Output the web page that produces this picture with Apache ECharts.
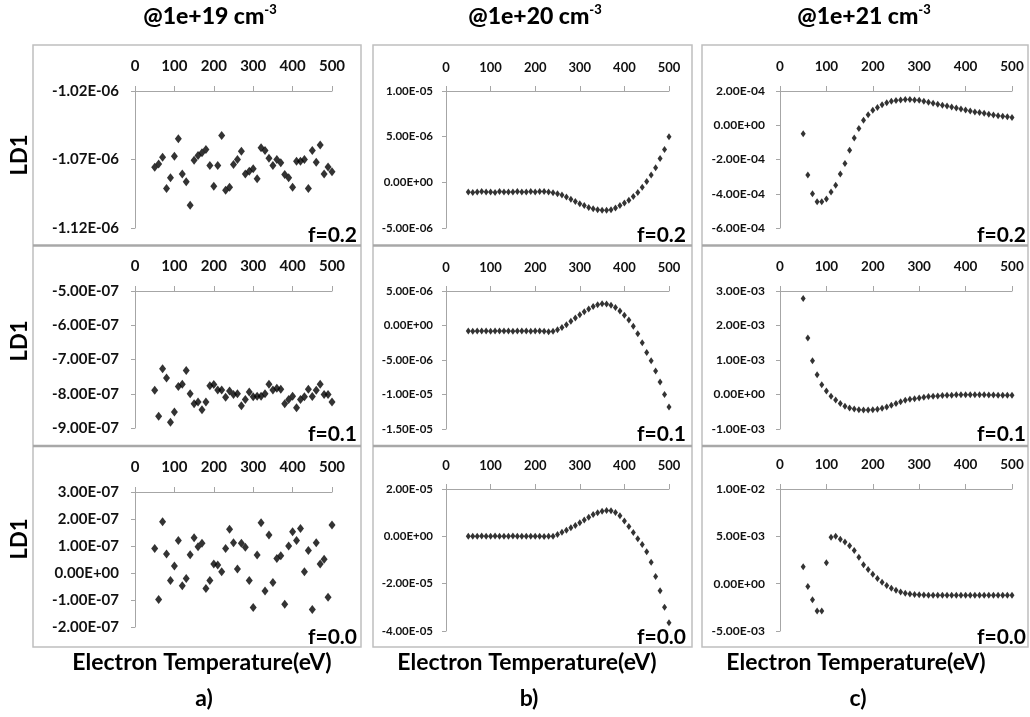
<!DOCTYPE html>
<html>
<head>
<meta charset="utf-8">
<script src="https://cdn.jsdelivr.net/npm/echarts@6/dist/echarts.min.js"></script>
<style>
html,body{margin:0;padding:0;background:#fff;}
#chart{width:1030px;height:717px;}
</style>
</head>
<body>
<div id="chart"></div>
<script>
// ---------------- data ----------------
const temps = [50,60,70,80,90,100,110,120,130,140,150,160,170,180,190,200,210,220,230,240,250,260,270,280,290,300,310,320,330,340,350,360,370,380,390,400,410,420,430,440,450,460,470,480,490,500];
const xTicks = [0,100,200,300,400,500];

// column a) @1e+19 cm-3
const ld1_a_f02 = [-1.0756e-6,-1.0732e-6,-1.0683e-6,-1.0912e-6,-1.0834e-6,-1.0676e-6,-1.0549e-6,-1.0805e-6,-1.0863e-6,-1.1034e-6,
  -1.0705e-6,-1.0671e-6,-1.0651e-6,-1.0627e-6,-1.0744e-6,-1.0895e-6,-1.0744e-6,-1.0524e-6,-1.0924e-6,-1.0902e-6,
  -1.0737e-6,-1.0700e-6,-1.0639e-6,-1.0805e-6,-1.0785e-6,-1.0768e-6,-1.0841e-6,-1.0615e-6,-1.0634e-6,-1.0690e-6,
  -1.0744e-6,-1.0700e-6,-1.0724e-6,-1.0810e-6,-1.0834e-6,-1.0902e-6,-1.0712e-6,-1.0712e-6,-1.0700e-6,-1.0912e-6,
  -1.0634e-6,-1.0720e-6,-1.0595e-6,-1.0805e-6,-1.0754e-6,-1.0790e-6];
const ld1_a_f01 = [-7.90e-7,-8.66e-7,-7.27e-7,-7.54e-7,-8.83e-7,-8.53e-7,-7.79e-7,-7.72e-7,-7.32e-7,-8.00e-7,
  -8.29e-7,-8.24e-7,-8.47e-7,-8.24e-7,-7.77e-7,-7.73e-7,-7.89e-7,-7.89e-7,-8.10e-7,-7.92e-7,
  -8.02e-7,-8.00e-7,-8.35e-7,-8.17e-7,-7.95e-7,-8.09e-7,-8.07e-7,-8.07e-7,-8.00e-7,-7.72e-7,
  -7.89e-7,-7.84e-7,-7.87e-7,-8.29e-7,-8.17e-7,-8.07e-7,-8.41e-7,-8.17e-7,-8.09e-7,-7.87e-7,
  -8.08e-7,-7.90e-7,-7.72e-7,-8.02e-7,-8.02e-7,-8.24e-7];
const ld1_a_f00 = [0.91e-7,-0.98e-7,1.90e-7,0.70e-7,-0.28e-7,0.26e-7,1.20e-7,-0.47e-7,-0.20e-7,0.68e-7,
  1.31e-7,0.97e-7,1.10e-7,-0.57e-7,-0.28e-7,0.33e-7,0.30e-7,0.05e-7,0.91e-7,1.62e-7,
  1.12e-7,0.15e-7,1.10e-7,0.95e-7,-0.28e-7,-1.28e-7,0.67e-7,1.86e-7,-0.67e-7,1.41e-7,
  -0.35e-7,0.54e-7,0.64e-7,-1.16e-7,1.00e-7,1.53e-7,1.20e-7,1.65e-7,0.05e-7,0.83e-7,
  -1.35e-7,1.12e-7,0.33e-7,0.51e-7,-0.90e-7,1.78e-7];

// column b) @1e+20 cm-3
const ld1_b_f02 = [-1.05e-6,-1.10e-6,-1.05e-6,-1.00e-6,-1.05e-6,-1.05e-6,-1.10e-6,-1.00e-6,-1.05e-6,-1.05e-6,
  -1.05e-6,-1.00e-6,-1.05e-6,-1.05e-6,-1.00e-6,-1.05e-6,-1.00e-6,-1.00e-6,-1.05e-6,-1.15e-6,
  -1.25e-6,-1.40e-6,-1.60e-6,-1.85e-6,-2.10e-6,-2.35e-6,-2.55e-6,-2.75e-6,-2.90e-6,-3.00e-6,
  -3.05e-6,-3.05e-6,-3.00e-6,-2.80e-6,-2.55e-6,-2.25e-6,-1.95e-6,-1.55e-6,-1.10e-6,-0.55e-6,
  0.10e-6,0.80e-6,1.60e-6,2.60e-6,3.60e-6,5.00e-6];
const ld1_b_f01 = [-0.80e-6,-0.85e-6,-0.80e-6,-0.80e-6,-0.80e-6,-0.85e-6,-0.80e-6,-0.80e-6,-0.80e-6,-0.80e-6,
  -0.85e-6,-0.80e-6,-0.80e-6,-0.80e-6,-0.85e-6,-0.80e-6,-0.80e-6,-0.85e-6,-0.90e-6,-0.85e-6,
  -0.60e-6,-0.30e-6,0.10e-6,0.60e-6,1.10e-6,1.55e-6,2.00e-6,2.40e-6,2.75e-6,3.00e-6,
  3.15e-6,3.10e-6,2.95e-6,2.60e-6,2.10e-6,1.50e-6,0.80e-6,-0.10e-6,-1.20e-6,-2.50e-6,
  -3.90e-6,-5.10e-6,-6.60e-6,-8.20e-6,-10.0e-6,-11.8e-6];
const ld1_b_f00 = [0.00e-5,0.00e-5,0.00e-5,0.01e-5,0.00e-5,0.00e-5,0.01e-5,0.00e-5,0.00e-5,0.00e-5,
  0.01e-5,0.00e-5,0.00e-5,0.00e-5,0.00e-5,0.00e-5,0.00e-5,-0.01e-5,0.00e-5,0.00e-5,
  0.08e-5,0.17e-5,0.26e-5,0.36e-5,0.46e-5,0.57e-5,0.69e-5,0.81e-5,0.92e-5,1.00e-5,
  1.06e-5,1.09e-5,1.08e-5,1.01e-5,0.87e-5,0.65e-5,0.42e-5,0.16e-5,-0.10e-5,-0.35e-5,
  -0.65e-5,-1.10e-5,-1.70e-5,-2.30e-5,-3.00e-5,-3.65e-5];

// column c) @1e+21 cm-3
const ld1_c_f02 = [-0.50e-4,-2.90e-4,-4.00e-4,-4.47e-4,-4.47e-4,-4.30e-4,-3.90e-4,-3.50e-4,-2.85e-4,-2.23e-4,
  -1.46e-4,-0.74e-4,-0.19e-4,0.29e-4,0.62e-4,0.87e-4,1.03e-4,1.20e-4,1.32e-4,1.40e-4,
  1.44e-4,1.47e-4,1.50e-4,1.50e-4,1.48e-4,1.46e-4,1.40e-4,1.34e-4,1.28e-4,1.22e-4,
  1.17e-4,1.13e-4,1.07e-4,1.01e-4,0.95e-4,0.89e-4,0.83e-4,0.78e-4,0.74e-4,0.70e-4,
  0.64e-4,0.60e-4,0.56e-4,0.52e-4,0.49e-4,0.45e-4];
const ld1_c_f01 = [2.78e-3,1.64e-3,0.98e-3,0.57e-3,0.28e-3,0.10e-3,-0.05e-3,-0.16e-3,-0.26e-3,-0.34e-3,
  -0.39e-3,-0.42e-3,-0.44e-3,-0.45e-3,-0.45e-3,-0.44e-3,-0.43e-3,-0.40e-3,-0.36e-3,-0.31e-3,
  -0.26e-3,-0.21e-3,-0.17e-3,-0.14e-3,-0.12e-3,-0.10e-3,-0.08e-3,-0.06e-3,-0.05e-3,-0.04e-3,
  -0.03e-3,-0.02e-3,-0.02e-3,-0.01e-3,-0.01e-3,-0.01e-3,-0.01e-3,-0.01e-3,-0.01e-3,-0.01e-3,
  -0.015e-3,-0.015e-3,-0.02e-3,-0.02e-3,-0.02e-3,-0.02e-3];
const ld1_c_f00 = [1.80e-3,-0.30e-3,-1.70e-3,-2.90e-3,-2.90e-3,2.20e-3,4.90e-3,5.00e-3,4.70e-3,4.40e-3,
  4.00e-3,3.50e-3,2.80e-3,2.00e-3,1.50e-3,1.00e-3,0.55e-3,0.15e-3,-0.20e-3,-0.48e-3,
  -0.70e-3,-0.88e-3,-1.00e-3,-1.08e-3,-1.14e-3,-1.18e-3,-1.21e-3,-1.22e-3,-1.23e-3,-1.23e-3,
  -1.23e-3,-1.23e-3,-1.23e-3,-1.23e-3,-1.23e-3,-1.23e-3,-1.23e-3,-1.23e-3,-1.23e-3,-1.23e-3,
  -1.23e-3,-1.23e-3,-1.23e-3,-1.23e-3,-1.23e-3,-1.23e-3];

// y-axis ranges: [min, max, interval]
const yRange_a = [[-1.12e-6,-1.02e-6,0.05e-6],[-9e-7,-5e-7,1e-7],[-2e-7,3e-7,1e-7]];
const yRange_b = [[-5e-6,1e-5,5e-6],[-1.5e-5,5e-6,5e-6],[-4e-5,2e-5,2e-5]];
const yRange_c = [[-6e-4,2e-4,2e-4],[-1e-3,3e-3,1e-3],[-5e-3,1e-2,5e-3]];

const densities = ['19','20','21'];
const fLabels = ['f=0.2','f=0.1','f=0.0'];
const panelLetters = ['a)','b)','c)'];
const xTitle = 'Electron Temperature(eV)';
const yTitle = 'LD1';

// ---------------- layout ----------------
const colGrid = [{left:135,width:197},{left:446,width:223},{left:780,width:232}];
const rowGrid = [
  [{top:91,height:137},{top:291,height:137},{top:492,height:135}],
  [{top:91,height:137},{top:291,height:138},{top:489,height:142}],
  [{top:91,height:137},{top:291,height:138},{top:489,height:142}]
];
const colLabelFont = [
  {family:'Lato', weight:'bold', y:15, x:15, ymargin:16},
  {family:'Lato', weight:'bold', y:11.5, x:13, ymargin:13},
  {family:'Lato', weight:'bold', y:12, x:13.5, ymargin:15}
];
const boxes = [{x1:33,x2:361},{x1:373,x2:692},{x1:702,x2:1028}];
const boxTop = 45, boxBottom = 647, seps = [245.5, 446];
const fRight = [357,686,1026];
const fY = [235,434,637];
const titleX = [210,535,864];
const ld1Y = [155,341,539];

const allData = [[ld1_a_f02,ld1_a_f01,ld1_a_f00],[ld1_b_f02,ld1_b_f01,ld1_b_f00],[ld1_c_f02,ld1_c_f01,ld1_c_f00]];
const allRanges = [yRange_a,yRange_b,yRange_c];

function fmtE(v){
  let s = Number(v).toExponential(2).toUpperCase();
  return s.replace(/E([+-])(\d)$/, 'E$10$2');
}

const grids=[], xAxes=[], yAxes=[], series=[];
const axisColor = '#a6a6a6';
for (let c=0;c<3;c++){
  for (let r=0;r<3;r++){
    const idx = grids.length;
    const g = rowGrid[c][r];
    grids.push({left:colGrid[c].left, width:colGrid[c].width, top:g.top, height:g.height});
    const lf = colLabelFont[c];
    xAxes.push({
      gridIndex:idx, type:'value', position:'top', min:xTicks[0], max:xTicks[xTicks.length-1], interval:xTicks[1]-xTicks[0],
      axisLine:{show:true,onZero:false,lineStyle:{color:axisColor,width:1}},
      axisTick:{show:true,length:5,lineStyle:{color:axisColor}},
      splitLine:{show:false},
      axisLabel:{margin:17,color:'#111',fontFamily:lf.family,fontWeight:lf.weight,fontSize:lf.x}
    });
    const yr = allRanges[c][r];
    yAxes.push({
      gridIndex:idx, type:'value', min:yr[0], max:yr[1], interval:yr[2],
      axisLine:{show:true,onZero:false,lineStyle:{color:axisColor,width:1}},
      axisTick:{show:true,length:4,lineStyle:{color:axisColor}},
      splitLine:{show:false},
      axisLabel:{margin:lf.ymargin,color:'#111',fontFamily:lf.family,fontWeight:lf.weight,fontSize:lf.y,formatter:fmtE}
    });
    series.push({
      type:'scatter', xAxisIndex:idx, yAxisIndex:idx,
      symbol:'diamond', symbolSize: c===0 ? [7,9] : [5,7],
      itemStyle:{color:'#000'},
      data: temps.map((t,i)=>[t, allData[c][r][i]])
    });
  }
}

const graphics = [];
for (let c=0;c<3;c++){
  const b = boxes[c];
  graphics.push({type:'rect', shape:{x:b.x1,y:boxTop,width:b.x2-b.x1,height:boxBottom-boxTop}, style:{fill:'none',stroke:'#bfbfbf',lineWidth:1.5}, silent:true, z:-1});
  seps.forEach(sy=>graphics.push({type:'line', shape:{x1:b.x1,y1:sy,x2:b.x2,y2:sy}, style:{stroke:'#a8a8a8',lineWidth:2.5}, silent:true, z:-1}));
  // titles
  graphics.push({type:'text', x:titleX[c], y:17, style:{
    text:'{m|@1e+'+densities[c]+' cm}{s|-3}', align:'center', verticalAlign:'middle',
    rich:{m:{fontSize:23,fontWeight:900,fontFamily:'Lato',fill:'#000',lineHeight:28},
          s:{fontSize:13,fontWeight:900,fontFamily:'Lato',fill:'#000',verticalAlign:'top',lineHeight:15}}
  }});
  graphics.push({type:'text', x:titleX[c]-8, y:663, style:{text:xTitle, align:'center', verticalAlign:'middle', fontSize:23, fontWeight:'bold', fontFamily:'Lato', fill:'#000'}});
  graphics.push({type:'text', x:titleX[c]-6, y:699, style:{text:panelLetters[c], align:'center', verticalAlign:'middle', fontSize:23, fontWeight:'bold', fontFamily:'Lato', fill:'#000'}});
  for (let r=0;r<3;r++){
    graphics.push({type:'text', x:fRight[c], y:fY[r], style:{text:fLabels[r], align:'right', verticalAlign:'middle', fontSize:21, fontWeight:'bold', fontFamily:'Lato', fill:'#000'}});
  }
}
for (let r=0;r<3;r++){
  graphics.push({type:'text', x:20, y:ld1Y[r], rotation:Math.PI/2, style:{text:yTitle, align:'center', verticalAlign:'middle', fontSize:22, fontWeight:'bold', fontFamily:'Lato', fill:'#000'}});
}

const chart = echarts.init(document.getElementById('chart'), null, {renderer:'canvas'});
chart.setOption({
  animation:false,
  backgroundColor:'#fff',
  grid:grids, xAxis:xAxes, yAxis:yAxes, series:series,
  graphic:{elements:graphics}
});
</script>
</body>
</html>
